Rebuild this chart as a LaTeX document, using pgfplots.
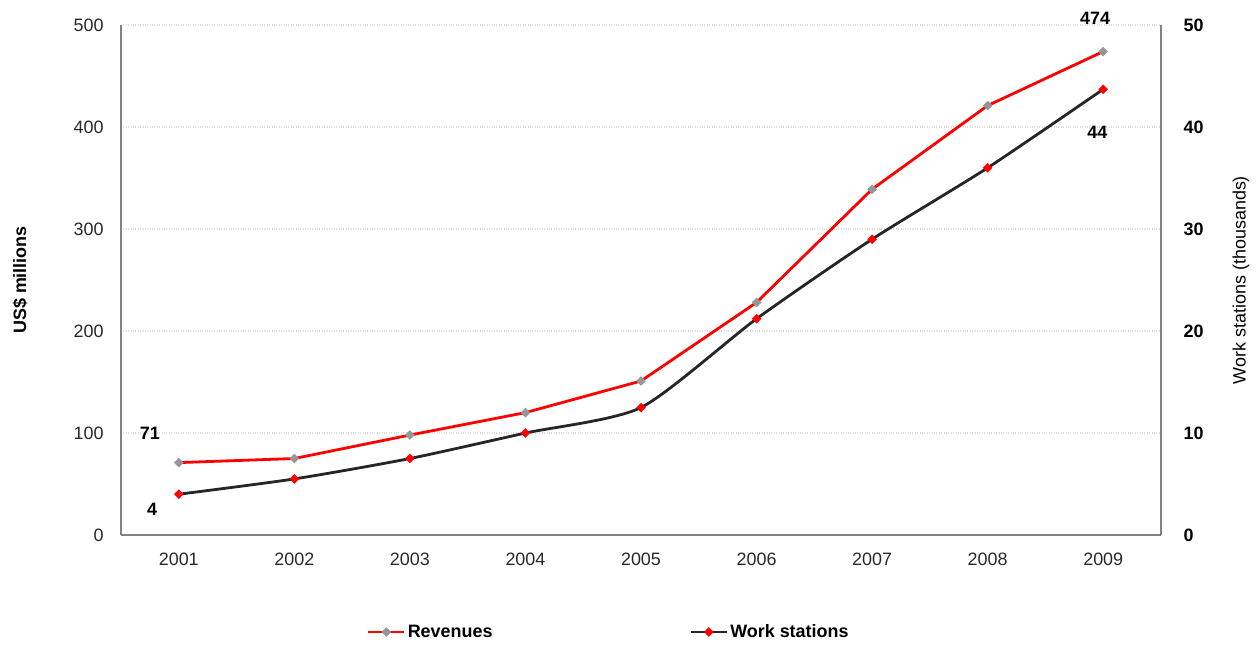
\documentclass[border=0pt]{standalone}
\usepackage{pgfplots}
\pgfplotsset{compat=1.18}
\usepackage{fontspec}
\setmainfont{Liberation Sans}
\definecolor{gridc}{RGB}{222,222,222}
\definecolor{axc}{RGB}{130,130,130}
\definecolor{mgray}{RGB}{150,150,150}
\definecolor{tickc}{RGB}{40,40,40}
\begin{document}
\begin{tikzpicture}
\pgfplotsset{
  base/.style={
    width=1040bp, height=510bp, scale only axis,
    xmin=-0.5, xmax=8.5,
    clip=false,
    font=\fontsize{18}{21}\selectfont,
    axis line style={axc, line width=1.2bp},
    major tick length=0pt,
    /pgf/number format/assume math mode=true,
  }
}
\begin{axis}[base, name=main,
  ymin=0, ymax=500,
  xtick={0,1,2,3,4,5,6,7,8},
  xticklabels={2001,2002,2003,2004,2005,2006,2007,2008,2009},
  ytick={0,100,200,300,400,500},
  axis x line*=bottom, axis y line*=left,
  ymajorgrids, grid style={gridc, dotted, line width=1.2bp},
  ylabel={\bfseries US\$ millions},
  ylabel style={at={(rel axis cs:-0.097,0.5)}, anchor=center, rotate=0},
  yticklabel style={tickc, xshift=-14bp},
  xticklabel style={tickc, yshift=-14bp},
  legend style={at={(rel axis cs:0.469,-0.19)}, anchor=center, draw=none, fill=none,
    legend columns=2, font=\bfseries\fontsize{18}{21}\selectfont,
    /tikz/every even column/.append style={column sep=195bp},
    /tikz/every odd column/.append style={column sep=0bp}},
  legend cell align=left,
  legend image code/.code={
    \draw[line width=2.8bp, mark repeat=2, mark phase=2] plot coordinates {(0bp,0bp) (18bp,0bp) (36bp,0bp)};
  },
]
\addplot[red, line width=2.8bp, mark=square*, mark size=3.2bp,
  mark options={fill=mgray, draw=mgray, line width=0.3bp, rotate=45}]
  coordinates {(0,71) (1,75) (2,98) (3,120) (4,151) (5,228) (6,339) (7,421) (8,474)};
\addlegendentry{Revenues}
\addlegendimage{black!85, line width=2.8bp, mark=square*, mark size=3.2bp,
  mark options={fill=red, draw=red, line width=0.3bp, rotate=45}}
\addlegendentry{Work stations}
\node[font=\bfseries\fontsize{18}{21}\selectfont] at (axis cs:-0.25,100) {71};
\node[font=\bfseries\fontsize{18}{21}\selectfont] at (axis cs:-0.23,25) {4};
\node[font=\bfseries\fontsize{18}{21}\selectfont] at (axis cs:7.93,507) {474};
\node[font=\bfseries\fontsize{18}{21}\selectfont] at (axis cs:7.95,395) {44};
\end{axis}
\begin{axis}[base,
  ymin=0, ymax=50,
  axis x line=none, axis y line*=right,
  ytick={0,10,20,30,40,50},
  yticklabel style={font=\bfseries\fontsize{18}{21}\selectfont, xshift=19bp},
  ylabel={Work stations (thousands)},
  ylabel style={at={(rel axis cs:1.077,0.5)}, anchor=center, rotate=0},
]
\addplot[black!85, line width=2.8bp, smooth, tension=0.4, mark=square*, mark size=3.2bp,
  mark options={fill=red, draw=red, line width=0.3bp, rotate=45}]
  coordinates {(0,4) (1,5.5) (2,7.5) (3,10) (4,12.5) (5,21.2) (6,29) (7,36) (8,43.7)};
\end{axis}
\path[use as bounding box] ([shift={(-121bp,-110bp)}]main.south west) rectangle ([shift={(99bp,25bp)}]main.north east);
\end{tikzpicture}
\end{document}
